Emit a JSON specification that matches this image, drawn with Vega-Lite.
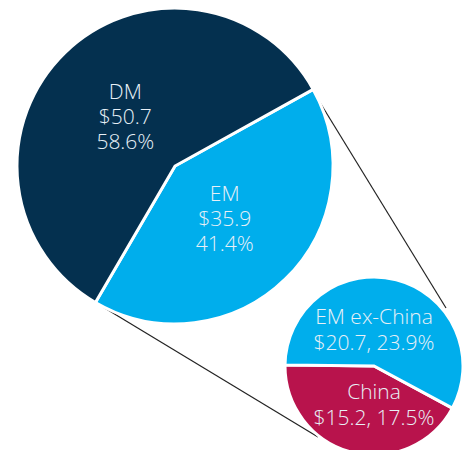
{
  "$schema": "https://vega.github.io/schema/vega-lite/v6.json",
  "width": 465,
  "height": 450,
  "padding": 0,
  "autosize": {"type": "none"},
  "background": "white",
  "config": {"view": {"stroke": null}},
  "datasets": {
    "pies": [
      {"pie": "All", "cx": 175, "cy": 166},
      {"pie": "EM", "cx": 374, "cy": 366}
    ],
    "slices": [
      {"pie": "All", "segment": "EM", "value": 35.9, "pct": 41.4, "order": 1, "label": "EM\n$35.9\n41.4%"},
      {"pie": "All", "segment": "DM", "value": 50.7, "pct": 58.6, "order": 2, "label": "DM\n$50.7\n58.6%"},
      {"pie": "EM", "segment": "China", "value": 15.2, "pct": 17.5, "order": 1, "label": "China\n$15.2, 17.5%"},
      {"pie": "EM", "segment": "EM ex-China", "value": 20.7, "pct": 23.9, "order": 2, "label": "EM ex-China\n$20.7, 23.9%"}
    ],
    "connectors": [
      {"x": 316, "y": 96, "x2": 446, "y2": 308},
      {"x": 103, "y": 307, "x2": 318, "y2": 437}
    ]
  },
  "layer": [
    {
      "data": {"name": "connectors"},
      "mark": {"type": "rule", "color": "#222222", "strokeWidth": 1.2},
      "encoding": {
        "x": {"field": "x", "type": "quantitative", "scale": {"domain": [0, 465], "nice": false, "zero": false}, "axis": null},
        "y": {"field": "y", "type": "quantitative", "scale": {"domain": [0, 450], "nice": false, "zero": false, "reverse": true}, "axis": null},
        "x2": {"field": "x2"},
        "y2": {"field": "y2"}
      }
    },
    {
      "data": {"name": "slices"},
      "transform": [
        {"filter": "datum.pie === 'All'"},
        {"lookup": "pie", "from": {"data": {"name": "pies"}, "key": "pie", "fields": ["cx", "cy"]}}
      ],
      "encoding": {
        "x": {"field": "cx", "type": "quantitative", "axis": null},
        "y": {"field": "cy", "type": "quantitative", "axis": null},
        "theta": {"field": "value", "type": "quantitative", "stack": true, "scale": {"range": [1.0647, 7.3479]}},
        "order": {"field": "order", "type": "quantitative"}
      },
      "layer": [
        {
          "mark": {"type": "arc", "outerRadius": 158, "stroke": "white", "strokeWidth": 3},
          "encoding": {
            "color": {"field": "segment", "type": "nominal", "legend": null,
              "scale": {"domain": ["DM", "EM", "EM ex-China", "China"], "range": ["#04304f", "#00aeec", "#00aeec", "#b8134c"]}}
          }
        },
        {
          "mark": {"type": "text", "radius": 71, "dy": -22, "lineBreak": "\n", "lineHeight": 25, "align": "center", "baseline": "middle",
            "font": "Open Sans", "fontWeight": 300, "fontSize": 21, "color": "#e8f0f7"},
          "encoding": {"text": {"field": "label"}}
        }
      ]
    },
    {
      "data": {"name": "slices"},
      "transform": [
        {"filter": "datum.pie === 'EM'"},
        {"lookup": "pie", "from": {"data": {"name": "pies"}, "key": "pie", "fields": ["cx", "cy"]}}
      ],
      "encoding": {
        "x": {"field": "cx", "type": "quantitative", "axis": null},
        "y": {"field": "cy", "type": "quantitative", "axis": null}
      },
      "layer": [
        {
          "mark": {"type": "arc", "outerRadius": 89, "stroke": "white", "strokeWidth": 3},
          "encoding": {
            "theta": {"field": "value", "type": "quantitative", "stack": true, "scale": {"range": [2.0647, 8.3479]}},
            "order": {"field": "order", "type": "quantitative"},
            "color": {"field": "segment", "type": "nominal", "legend": null}
          }
        },
        {
          "transform": [{"filter": "datum.segment === 'EM ex-China'"}],
          "mark": {"type": "text", "dy": -48, "lineBreak": "\n", "lineHeight": 26, "align": "center", "baseline": "middle",
            "font": "Open Sans", "fontWeight": 300, "fontSize": 21, "color": "#e8f0f7"},
          "encoding": {"text": {"field": "label"}}
        },
        {
          "transform": [{"filter": "datum.segment === 'China'"}],
          "mark": {"type": "text", "dy": 27, "lineBreak": "\n", "lineHeight": 26, "align": "center", "baseline": "middle",
            "font": "Open Sans", "fontWeight": 300, "fontSize": 21, "color": "#e8f0f7"},
          "encoding": {"text": {"field": "label"}}
        }
      ]
    }
  ],
  "resolve": {"scale": {"theta": "independent"}}
}
